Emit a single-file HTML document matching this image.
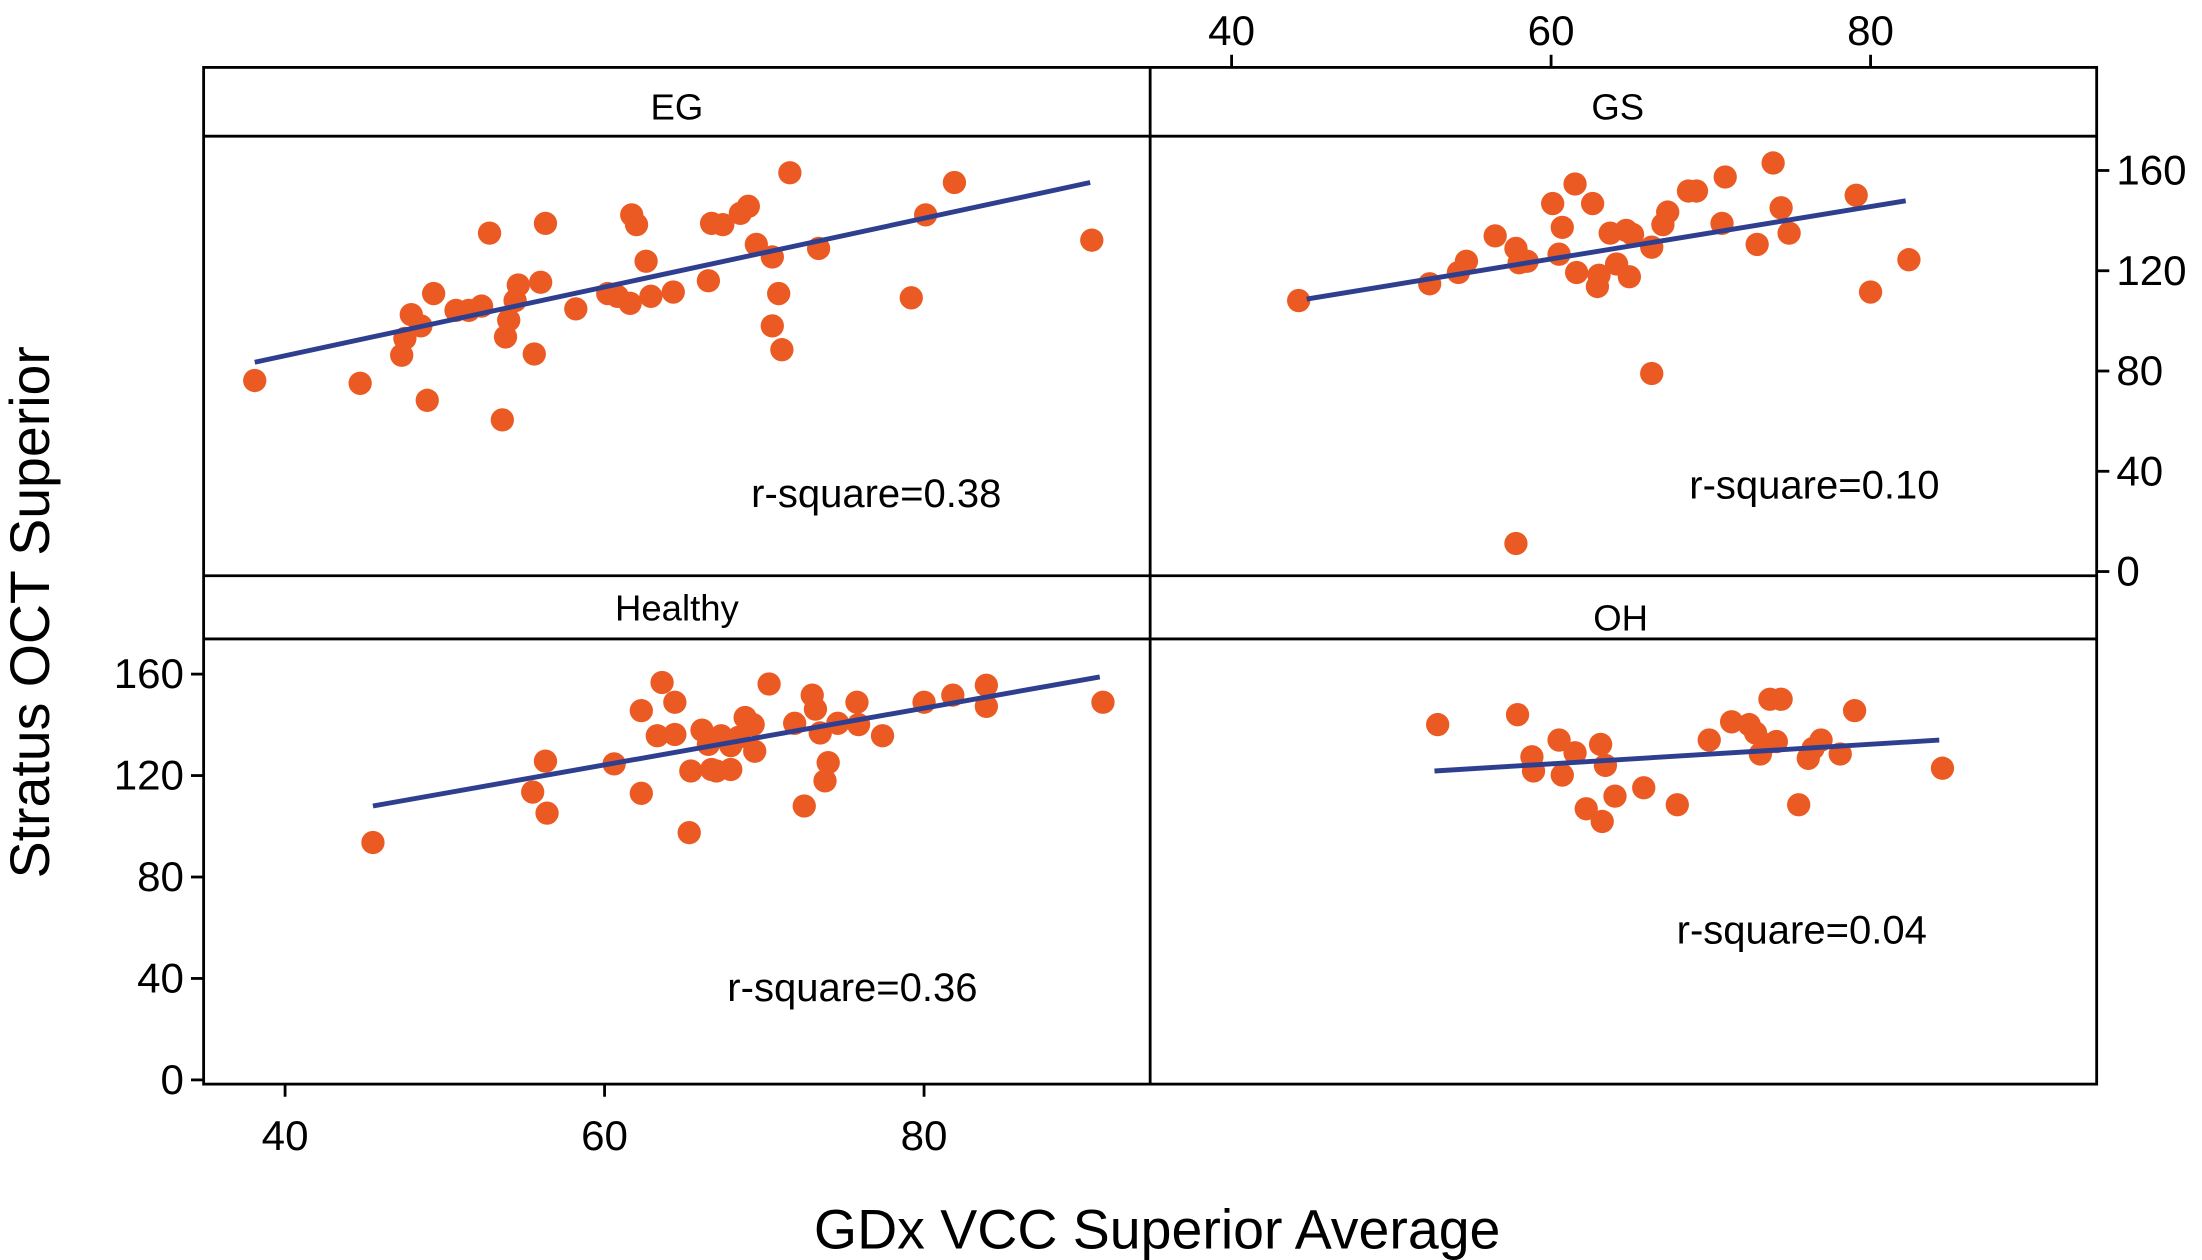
<!DOCTYPE html>
<html><head><meta charset="utf-8"><style>
html,body{margin:0;padding:0;background:#fff;}
svg{display:block;font-family:"Liberation Sans",Arial,sans-serif;}
</style></head><body>
<svg id="chart" width="2202" height="1260" viewBox="0 0 1568 897.25" preserveAspectRatio="none" xmlns="http://www.w3.org/2000/svg"></svg>
<script>
const xTicks=[40,60,80];
const yTicks=[0,40,80,120,160];
const panelNames=["EG","GS","Healthy","OH"];
const rSquares=["r-square=0.38","r-square=0.10","r-square=0.36","r-square=0.04"];
const egX=[38.1,44.7,47.3,47.5,47.9,48.5,48.9,49.3,50.7,51.5,52.3,52.8,53.6,53.8,54.0,54.4,54.6,55.6,56.0,56.3,58.2,60.2,60.8,61.6,61.7,62.0,62.6,62.9,64.3,66.5,66.7,67.4,68.5,69.0,69.5,70.5,70.5,70.9,71.1,71.6,73.4,79.2,80.1,81.9,90.5];
const egY=[76.2,75.1,86.3,93.0,102.5,98.0,68.3,110.9,104.2,104.2,105.9,135.0,60.5,93.6,100.3,108.1,114.3,86.8,115.4,138.9,104.8,110.9,109.8,107.0,142.3,138.4,123.8,109.8,111.5,116.0,138.9,138.4,142.9,145.7,130.5,125.5,98.0,110.9,88.5,159.1,128.9,109.2,142.3,155.2,132.2];
const gsX=[44.2,52.4,54.2,54.7,56.5,57.8,58.0,58.5,60.1,60.5,60.7,61.5,61.6,62.6,62.9,63.0,63.7,64.1,64.7,64.9,65.1,66.3,66.3,67.0,67.3,68.6,69.1,70.7,70.9,72.9,73.9,74.4,74.9,79.1,80.0,82.4,57.8];
const gsY=[108.1,114.8,119.3,123.8,133.9,128.9,123.2,123.8,146.8,126.6,137.3,154.6,119.3,146.8,113.7,118.2,135.0,122.7,136.1,117.6,134.5,129.4,79.0,138.4,143.4,151.8,151.8,138.9,157.4,130.5,163.0,145.1,135.0,150.1,111.5,124.4,11.2];
const hX=[45.5,55.5,56.3,56.4,60.6,62.3,62.3,63.3,63.6,64.4,64.4,65.3,65.4,66.1,66.5,66.7,67.0,67.3,67.9,67.9,68.4,68.8,69.3,69.4,70.3,71.9,72.5,73.0,73.2,73.5,73.8,74.0,74.6,75.8,75.9,77.4,80.0,81.8,83.9,83.9,91.2];
const hY=[93.6,113.5,125.7,105.2,124.6,113.0,145.6,135.7,156.7,148.9,136.2,97.5,121.8,137.9,132.3,122.4,121.8,135.7,131.8,122.4,135.1,142.9,140.1,129.6,156.1,140.6,108.0,151.7,146.2,136.8,117.9,125.1,140.6,148.9,140.1,135.7,148.9,151.7,155.6,147.3,148.9];
const ohX=[52.9,57.9,58.8,58.9,60.5,60.7,61.5,62.2,63.1,63.4,63.2,64.0,65.8,67.9,69.9,71.3,72.4,72.8,73.1,73.4,73.7,74.4,74.1,76.1,76.4,76.9,75.5,78.1,79.0,84.5];
const ohY=[140.1,144.0,127.4,121.8,134.0,120.2,129.0,106.9,132.3,124.0,101.9,111.9,115.2,108.5,134.0,141.2,140.1,136.8,128.5,132.3,150.1,150.1,133.4,126.8,130.7,134.0,108.5,128.5,145.6,122.9];
const lineX=[[38.1,90.4],[44.7,82.2],[45.5,91.0],[52.7,84.3]];
const lineY=[[83.5,155.2],[108.7,147.9],[108.0,158.9],[121.8,134.0]];
const allX=[egX,gsX,hX,ohX], allY=[egY,gsY,hY,ohY];

const NS="http://www.w3.org/2000/svg";
const svg=document.getElementById("chart");
function mk(tag,attrs,parent){const e=document.createElementNS(NS,tag);for(const k in attrs)e.setAttribute(k,attrs[k]);(parent||svg).appendChild(e);return e;}
const L=145,R=1493,M=819,T=48,B=772;
function xs(v,col){return 203+(v-40)*11.375+col*674;}
function ys(v,row){return row===0?407-v*1.785:769-v*1.806;}
const ORANGE="#ec5a24", BLUE="#2f3f90";

let f=mk("rect",{x:L,y:T,width:R-L,height:B-T,fill:"none",stroke:"#000","stroke-width":2});


[[M,T,M,B],[L,97,R,97],[L,410,R,410],[L,455,R,455]].forEach(c=>{
  const l=mk("line",{x1:c[0],y1:c[1],x2:c[2],y2:c[3],stroke:"#000","stroke-width":2});
  
  
});
const stripPos=[[482,76],[1152,76],[482,433],[1154,440]];
panelNames.forEach((n,i)=>{
  const t=mk("text",{x:stripPos[i][0],y:stripPos[i][1]+9,"font-size":26,"text-anchor":"middle"});
  t.textContent=n;
  
  
});
const rPos=[[624,351],[1292,345],[607,703],[1283,662]];
rSquares.forEach((s,i)=>{
  const t=mk("text",{x:rPos[i][0],y:rPos[i][1]+10,"font-size":28.5,"text-anchor":"middle"});
  t.textContent=s;
  
  
});
xTicks.forEach(v=>{
  const x=xs(v,0);
  const tk=mk("line",{x1:x,y1:B,x2:x,y2:B+9,stroke:"#000","stroke-width":2});
  
  
  const t=mk("text",{x:x,y:B+47,"font-size":30,"text-anchor":"middle"});t.textContent=v;
  
  
  const x2=xs(v,1);
  const tk2=mk("line",{x1:x2,y1:T,x2:x2,y2:T-9,stroke:"#000","stroke-width":2});
  
  
  const t2=mk("text",{x:x2,y:T-16,"font-size":30,"text-anchor":"middle"});t2.textContent=v;
  
  
});
yTicks.forEach(v=>{
  const y=ys(v,1);
  const tk=mk("line",{x1:L,y1:y,x2:L-9,y2:y,stroke:"#000","stroke-width":2});
  
  
  const t=mk("text",{x:L-14,y:y+10,"font-size":30,"text-anchor":"end"});t.textContent=v;
  
  
  const y2=ys(v,0);
  const tk2=mk("line",{x1:R,y1:y2,x2:R+9,y2:y2,stroke:"#000","stroke-width":2});
  
  
  const t2=mk("text",{x:R+14,y:y2+10,"font-size":30,"text-anchor":"start"});t2.textContent=v;
  
  
});
let xt=mk("text",{x:824,y:889,"font-size":39.5,"text-anchor":"middle"});xt.textContent="GDx VCC Superior Average";


let yt=mk("text",{x:0,y:0,"font-size":39.5,"text-anchor":"middle",transform:"translate(35,436) rotate(-90)"});yt.textContent="Stratus OCT Superior";


for(let p=0;p<4;p++){
  const col=p%2,row=Math.floor(p/2);
  const g=mk("g",{});
  
  
  allX[p].forEach((xv,i)=>{
    const c=mk("circle",{cx:xs(xv,col),cy:ys(allY[p][i],row),r:8.3,fill:ORANGE},g);
    
    
  });
  const ln=mk("line",{x1:xs(lineX[p][0],col),y1:ys(lineY[p][0],row),x2:xs(lineX[p][1],col),y2:ys(lineY[p][1],row),stroke:BLUE,"stroke-width":3.5});
  
  
}
</script>
</body></html>
